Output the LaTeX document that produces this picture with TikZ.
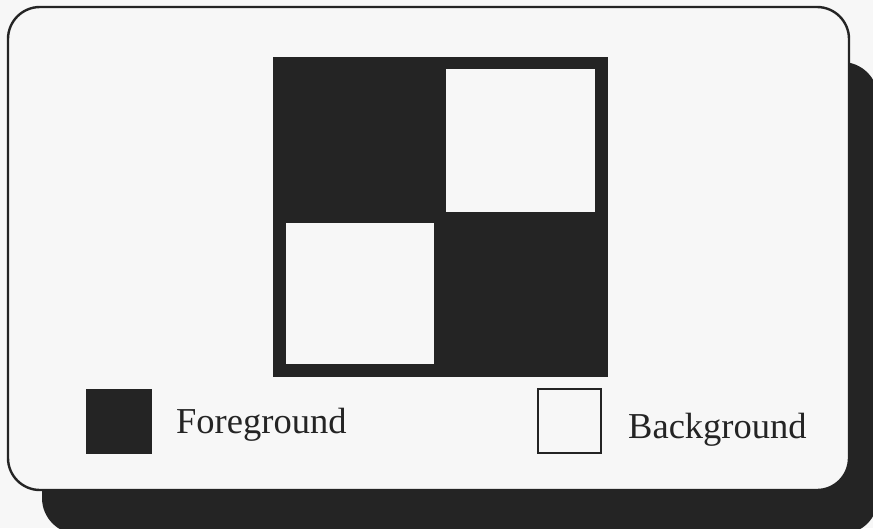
\documentclass[tikz,border=0pt]{standalone}
\usepackage{fontspec}
\setmainfont{Liberation Serif}
\definecolor{ink}{gray}{0.14}
\definecolor{paper}{gray}{0.97}
\tikzset{
  keybox/.style={minimum width=66pt,minimum height=65pt,inner sep=0pt},
  keytext/.style={anchor=base west,inner sep=0pt,font=\fontsize{36.5}{40}\selectfont,text=ink}
}

\begin{document}
\begin{tikzpicture}[x=1pt,y=-1pt]
  \useasboundingbox (0,0) rectangle (873,528);
  \fill[paper] (0,0) rectangle (873,528);
  % shadow and panel
  \fill[ink,rounded corners=36] (42,62) rectangle (878,534);
  \draw[ink,line width=2.4,fill=paper,rounded corners=32] (8,7) rectangle (849,490);
  % the picture
  \fill[ink] (273,57) rectangle (608,377);
  \fill[paper] (446,69) rectangle (595,212);
  \fill[paper] (286,223) rectangle (434,364);
  % key
  \node[keybox,fill=ink] (fgkey) at (118.5,421) {};
  \node[keybox,draw=ink,line width=2,fill=paper,minimum width=63pt,minimum height=64pt] (bgkey) at (569.5,421) {};
  \node[keytext] (fglabel) at (176,433) {Foreground};
  \node[keytext] (bglabel) at (628,438) {Background};
\end{tikzpicture}
\end{document}
